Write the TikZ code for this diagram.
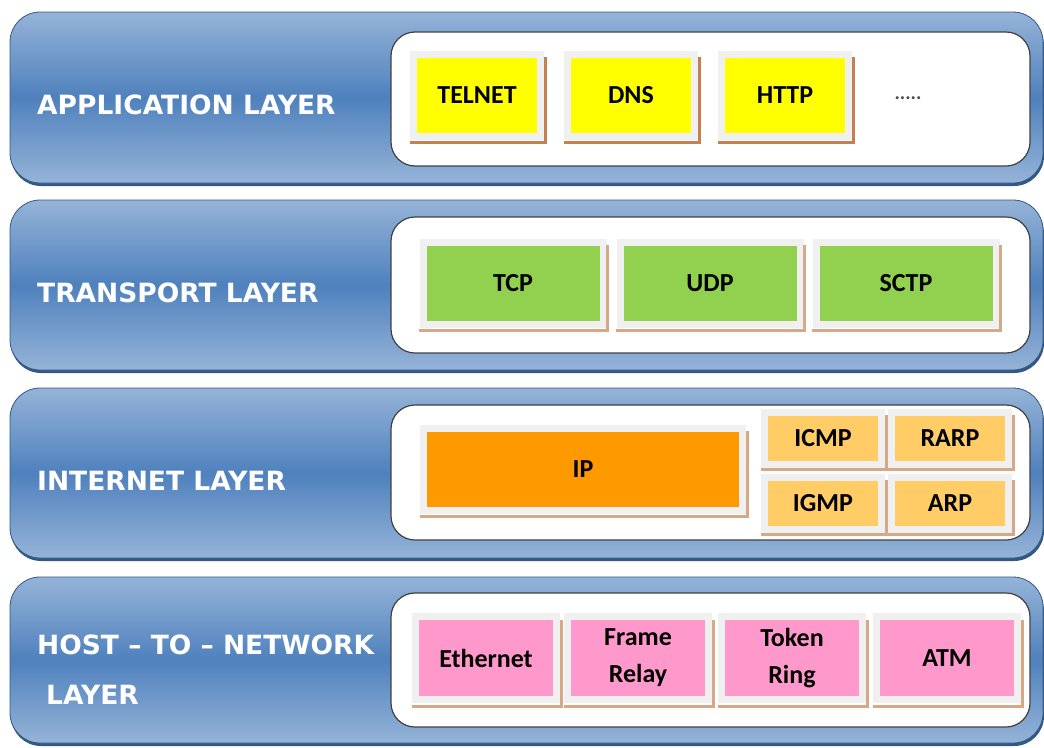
\documentclass[tikz,border=0pt]{standalone}
\usepackage{fontspec}
\setmainfont{Carlito}
\newfontfamily\labelfont{DejaVu Sans}

\definecolor{bandlight}{RGB}{149,179,215}
\definecolor{banddark}{RGB}{79,129,189}
\definecolor{bandedge}{RGB}{52,88,132}
\definecolor{framegray}{RGB}{240,240,240}
\definecolor{tanline}{RGB}{214,168,134}
\definecolor{rustline}{RGB}{196,128,80}
\definecolor{appyellow}{RGB}{255,255,0}
\definecolor{transgreen}{RGB}{146,208,80}
\definecolor{iporange}{RGB}{255,153,0}
\definecolor{ctlorange}{RGB}{255,204,102}
\definecolor{linkpink}{RGB}{255,153,204}

\begin{document}
\begin{tikzpicture}[x=1pt,y=-1pt,
  band/.style={rounded corners=30pt,top color=bandlight,bottom color=bandlight,middle color=banddark,draw=bandedge,line width=0.8pt},
  holder/.style={rounded corners=24pt,fill=white,draw=black!75,line width=1.2pt},
  layername/.style={anchor=west,text=white,inner sep=0pt,align=left,font=\labelfont\bfseries\fontsize{26.5}{50}\selectfont},
  proto/.style={fill=#1,inner sep=0pt,minimum height=75pt,align=center,font=\bfseries\fontsize{26}{37}\selectfont,preaction={draw=framegray,line width=14pt}},
  tan/.style={draw=#1,line width=3pt}
]
\useasboundingbox (0,0) rectangle (1044,747);

% layer bands and white holders
\foreach \t/\b in {12/185,200/372,388/560,577/745}{
  \fill[bandedge,rounded corners=30pt] (11,\t+4) rectangle (1044,\b+1);
  \draw[band] (10,\t) rectangle (1043,\b-2);
}
\foreach \t/\b in {32/166,217/353,405/540,593/727}
  \draw[holder] (391,\t) rectangle (1030,\b);

% layer names
\node[layername] (app) at (37,105) {APPLICATION LAYER};
\node[layername] (trans) at (37,293) {TRANSPORT LAYER};
\node[layername] (inet) at (37,481) {INTERNET LAYER};
\node[layername] (host) at (37,670) {HOST – TO – NETWORK\\\hspace{9pt}LAYER};

% application
\foreach \n/\x/\t in {telnet/477/TELNET,dns/631/DNS,http/785/HTTP}{
  \node[proto=appyellow,minimum width=120pt] (\n) at (\x,95) {\t};
  \draw[tan=rustline] ([xshift=-7pt,yshift=-10pt]\n.south west) -- ([xshift=8pt,yshift=-10pt]\n.south east) -- ([xshift=8pt]\n.north east);
}
\node[text=black!70,font=\bfseries\fontsize{20}{24}\selectfont] (more) at (908,98) {.....};

% transport
\foreach \n/\x/\t in {tcp/513/TCP,udp/710/UDP,sctp/906/SCTP}{
  \node[proto=transgreen,minimum width=173pt] (\n) at (\x,283) {\t};
  \draw[tan=tanline] ([xshift=-7pt,yshift=-10pt]\n.south west) -- ([xshift=8pt,yshift=-10pt]\n.south east) -- ([xshift=8pt]\n.north east);
}

% internet
\node[proto=iporange,minimum width=312pt] (ip) at (583,469) {IP};
\draw[tan=tanline] ([xshift=-7pt,yshift=-10pt]ip.south west) -- ([xshift=8pt,yshift=-10pt]ip.south east) -- ([xshift=8pt]ip.north east);
\foreach \n/\x/\y/\t in {icmp/823/438/ICMP,rarp/950/438/RARP,igmp/823/503/IGMP,arp/950/503/ARP}{
  \node[proto=ctlorange,minimum width=110pt,minimum height=45pt] (\n) at (\x,\y) {\t};
  \draw[tan=tanline] ([xshift=-7pt,yshift=-9pt]\n.south west) -- ([xshift=8pt,yshift=-9pt]\n.south east) -- ([xshift=8pt]\n.north east);
}

% host to network
\foreach \n/\x/\t in {ether/486/Ethernet,frame/638/Frame\\Relay,token/792/Token\\Ring,atm/947/ATM}{
  \node[proto=linkpink,minimum width=134pt,minimum height=76pt] (\n) at (\x,658) {\t};
  \draw[tan=tanline] ([xshift=-7pt,yshift=-10pt]\n.south west) -- ([xshift=8pt,yshift=-10pt]\n.south east) -- ([xshift=8pt]\n.north east);
}
\end{tikzpicture}
\end{document}
